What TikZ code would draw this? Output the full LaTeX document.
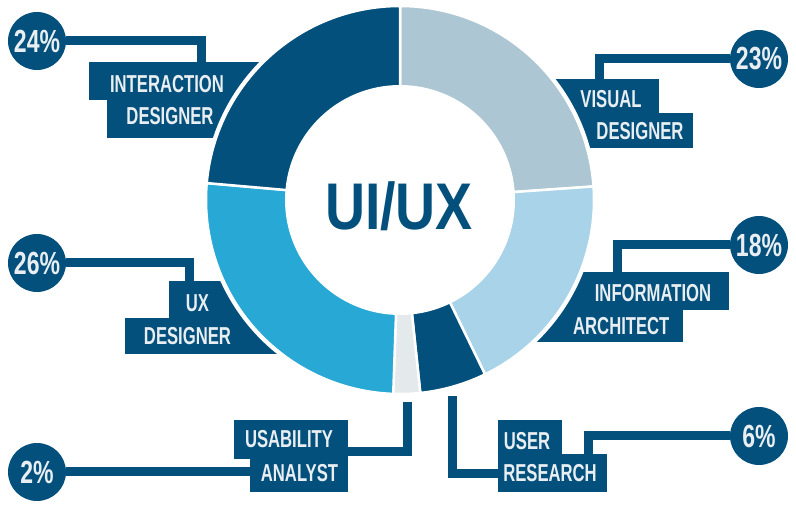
\documentclass[tikz,border=0pt]{standalone}
\usepackage{fontspec}
\usepackage{xcolor}
\usepackage{tikz}
\setmainfont{Liberation Sans}
\newfontfamily\labelfont[FakeStretch=0.68]{Liberation Sans}
\newfontfamily\pctfont[FakeStretch=0.72]{Liberation Sans}
\newfontfamily\titlefont[FakeStretch=0.84]{Liberation Sans}
\definecolor{navy}{RGB}{3,80,124}
\definecolor{steel}{RGB}{173,198,211}
\definecolor{sky}{RGB}{168,211,232}
\definecolor{uxblue}{RGB}{39,168,213}
\definecolor{mist}{RGB}{228,233,235}
\definecolor{paper}{RGB}{232,238,241}

\begin{document}
\begin{tikzpicture}[x=1pt,y=-1pt,
  box/.style={fill=navy,inner sep=0pt,anchor=north west},
  pct/.style={circle,fill=navy,minimum size=58pt,inner sep=0pt,text=paper,
    font=\pctfont\bfseries\fontsize{32}{32}\selectfont},
  lbl/.style={text=paper,inner sep=0pt,anchor=base,
    font=\labelfont\bfseries\fontsize{24.5}{25}\selectfont},
  link/.style={navy,line width=9pt}]
\useasboundingbox (0,0) rectangle (796,510);

% label boxes (they run under the ring)
\node[box,minimum width=201pt,minimum height=38pt] (ia1) at (89,62) {};
\node[box,minimum width=183pt,minimum height=38pt] (ia2) at (107,100) {};
\node[box,minimum width=139pt,minimum height=34pt] (vd1) at (520,79) {};
\node[box,minimum width=173pt,minimum height=35pt] (vd2) at (520,113) {};
\node[box,minimum width=209pt,minimum height=38pt] (ia3) at (520,272) {};
\node[box,minimum width=163pt,minimum height=32pt] (ia4) at (520,310) {};
\node[box,minimum width=121pt,minimum height=37pt] (ux1) at (169,281) {};
\node[box,minimum width=165pt,minimum height=36pt] (ux2) at (125,318) {};
\node[box,minimum width=114pt,minimum height=39pt] (ua1) at (234,420) {};
\node[box,minimum width=98pt,minimum height=33pt] (ua2) at (250,459) {};
\node[box,minimum width=64pt,minimum height=34pt] (ur1) at (498,420) {};
\node[box,minimum width=109pt,minimum height=38pt] (ur2) at (498,454) {};

% donut
\fill[white] (400,200) circle[radius=197pt];
\foreach \a/\b/\c in {90/4/steel,4/-64/sky,-64/-84/navy,-84/-92/mist,-92/-185/uxblue,-185/-270/navy}
  \filldraw[fill=\c,draw=white,line width=2.5pt] (400,200) -- ++(\a:194pt)
    arc[start angle=\a,end angle=\b,radius=194pt] -- cycle;
\fill[white] (400,200) circle[radius=115pt];
\node[anchor=base,inner sep=0pt,text=navy,font=\titlefont\bfseries\fontsize{66}{66}\selectfont] (title) at (399,230) {UI/UX};

% percentages
\node[pct] (p24) at (37,41) {24\%};
\node[pct] (p23) at (759,59) {23\%};
\node[pct] (p26) at (37,263) {26\%};
\node[pct] (p18) at (759,245) {18\%};
\node[pct] (p2) at (37,472) {2\%};
\node[pct] (p6) at (759,436) {6\%};

% labels
\node[lbl] (t-ia1) at (167,92.7) {INTERACTION};
\node[lbl] (t-ia2) at (170,125) {DESIGNER};
\node[lbl] (t-vd1) at (611,107.3) {VISUAL};
\node[lbl] (t-vd2) at (640,140) {DESIGNER};
\node[lbl] (t-ia3) at (653,301.7) {INFORMATION};
\node[lbl] (t-ia4) at (621.3,335) {ARCHITECT};
\node[lbl] (t-ux1) at (197.5,311.7) {UX};
\node[lbl] (t-ux2) at (187.5,345) {DESIGNER};
\node[lbl] (t-ua1) at (289,448) {USABILITY};
\node[lbl] (t-ua2) at (299.5,481.7) {ANALYST};
\node[lbl] (t-ur1) at (527,449.3) {USER};
\node[lbl] (t-ur2) at (550,481.7) {RESEARCH};

% connectors
\coordinate (ua-end) at (407.5,402);
\coordinate (ur-end) at (452,396);
\draw[link] (p24.east) -| ([xshift=112pt]ia1.north west);
\draw[link] (p23.west) -| ([xshift=79pt]vd1.north west);
\draw[link] (p18.west) -| ([xshift=97pt]ia3.north west);
\draw[link] (p6.west) -| ([xshift=90pt]ur2.north west);
\draw[link] (p26.east) -| ([xshift=20.5pt]ux1.north west);
\draw[link] (p2.east) -- (p2.east -| ua2.west);
\draw[link] ([yshift=-12pt]ua1.east) -| (ua-end);
\draw[link] (ur-end) |- (ur2.west);
\end{tikzpicture}
\end{document}
